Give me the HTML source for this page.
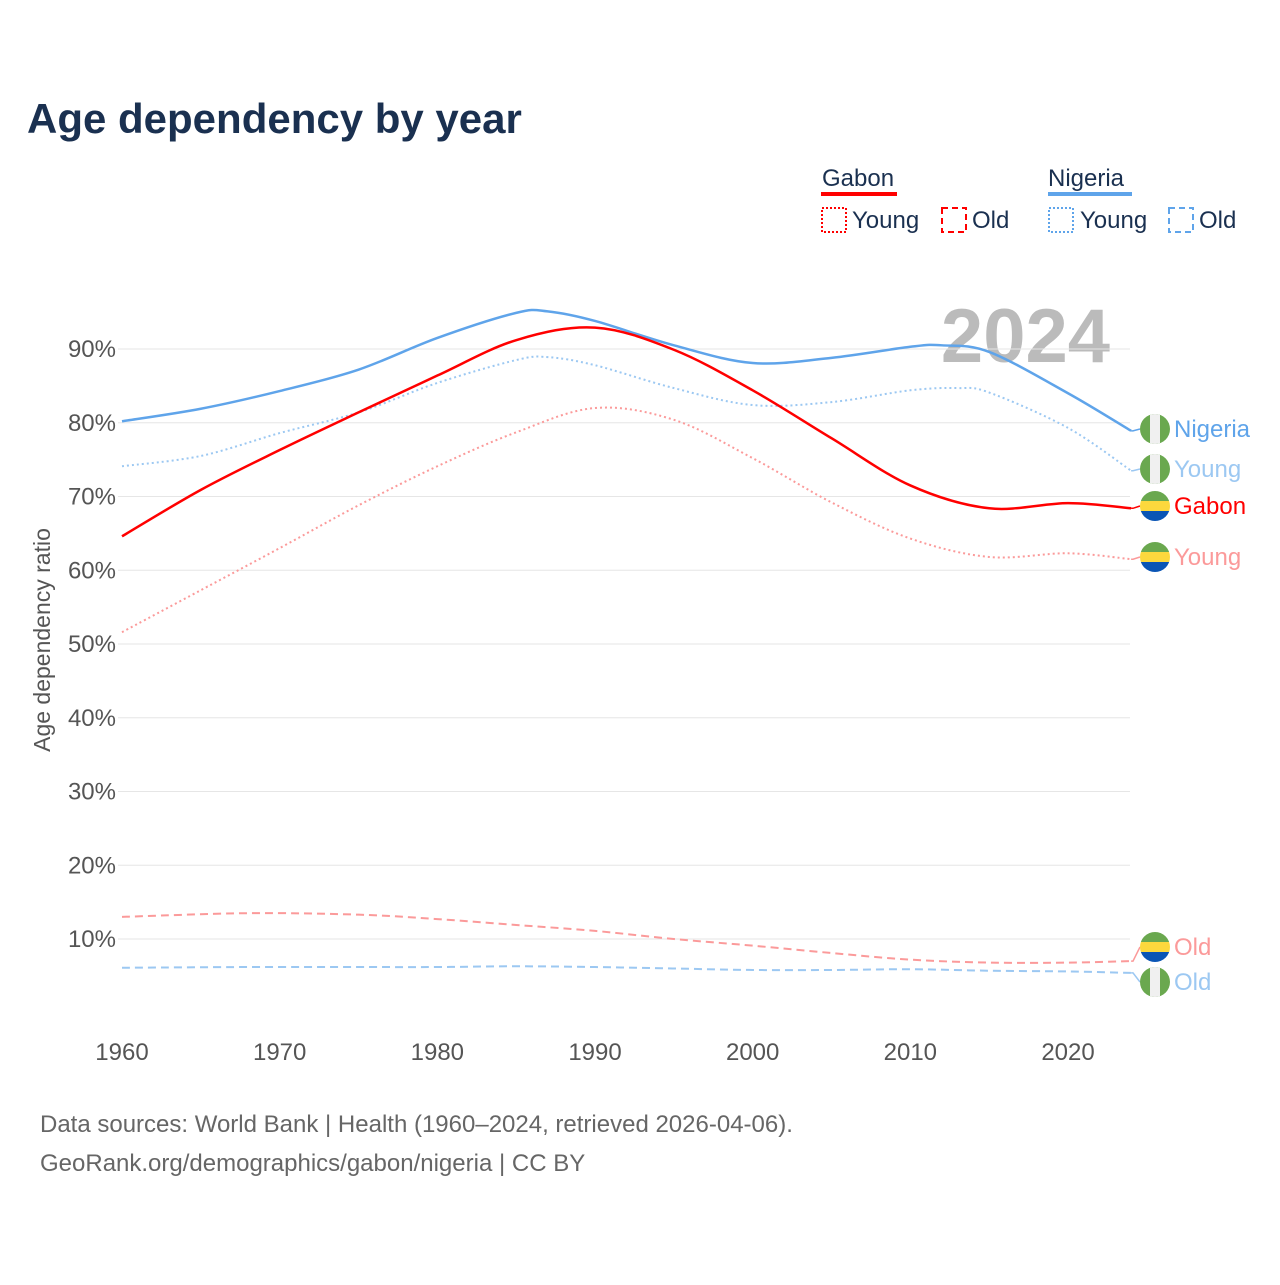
<!DOCTYPE html>
<html><head><meta charset="utf-8"><style>
body{margin:0;background:#fff;font-family:"Liberation Sans",sans-serif}
svg text{font-family:"Liberation Sans",sans-serif}
</style></head><body>
<svg id="c" width="1280" height="1280">
<text x="27" y="133" font-size="42" font-weight="bold" fill="#1a3050">Age dependency by year</text>
<g font-size="24" fill="#1a3050">
<text x="822" y="186">Gabon</text>
<rect x="821" y="192" width="76" height="4" fill="#f00"/>
<rect x="822" y="208" width="24" height="24" fill="none" stroke="#f00" stroke-width="2" stroke-dasharray="2,2"/>
<text x="852" y="228">Young</text>
<rect x="942" y="208" width="24" height="24" fill="none" stroke="#f00" stroke-width="2" stroke-dasharray="6,4"/>
<text x="972" y="228">Old</text>
<text x="1048" y="186">Nigeria</text>
<rect x="1048" y="192" width="84" height="4" fill="#5fa4ea"/>
<rect x="1049" y="208" width="24" height="24" fill="none" stroke="#5fa4ea" stroke-width="2" stroke-dasharray="2,2"/>
<text x="1080" y="228">Young</text>
<rect x="1169" y="208" width="24" height="24" fill="none" stroke="#5fa4ea" stroke-width="2" stroke-dasharray="6,4"/>
<text x="1199" y="228">Old</text>
</g>
<text x="1110" y="362" font-size="76" font-weight="bold" fill="#bbb" text-anchor="end">2024</text>
<text transform="translate(50,640) rotate(-90)" font-size="23" fill="#555" text-anchor="middle">Age dependency ratio</text>
<g id="grid"></g><g id="lines"></g><g id="labels"></g>
<text x="40" y="1132" font-size="24" fill="#666">Data sources: World Bank | Health (1960–2024, retrieved 2026-04-06).</text>
<text x="40" y="1171" font-size="24" fill="#666">GeoRank.org/demographics/gabon/nigeria | CC BY</text>
</svg>
<script>
const xTicks=[1960,1970,1980,1990,2000,2010,2020];
const yTicks=[10,20,30,40,50,60,70,80,90];
const ngYears=[1960,1965,1970,1975,1980,1985,1987,1990,1995,2000,2005,2010,2012,2015,2020,2024];
const ngTotal=[80.2,81.9,84.3,87.2,91.5,94.9,95.1,93.8,90.5,88.1,88.8,90.3,90.5,89.6,84.0,78.9];
const ngYoungYears=[1960,1965,1970,1975,1980,1985,1987,1990,1995,2000,2005,2010,2013,2015,2020,2024];
const ngYoung=[74.1,75.5,78.6,81.4,85.4,88.5,88.9,87.8,84.7,82.4,82.8,84.4,84.7,84.1,79.3,73.5];
const gaYears=[1960,1965,1970,1975,1980,1985,1990,1995,2000,2005,2010,2015,2020,2024];
const gaTotal=[64.6,70.9,76.3,81.4,86.4,91.2,92.9,89.9,84.4,77.9,71.5,68.4,69.1,68.4];
const gaYoung=[51.6,57.3,63.0,68.8,74.1,78.7,82.0,80.4,75.2,69.2,64.3,61.8,62.3,61.5];
const oldYears=[1960,1968,1975,1980,1985,1990,1995,2000,2005,2010,2015,2020,2024];
const gaOld=[13.0,13.5,13.3,12.7,11.9,11.1,10.0,9.1,8.1,7.2,6.8,6.8,7.0];
const ngOld=[6.1,6.2,6.2,6.2,6.3,6.2,6.0,5.8,5.8,5.9,5.7,5.6,5.4];
const X=y=>122+(y-1960)*15.767;
const Y=v=>1012.75-v*7.375;
const NS="http://www.w3.org/2000/svg";
function mk(t,a,p){const e=document.createElementNS(NS,t);for(const k in a)e.setAttribute(k,a[k]);p.appendChild(e);return e;}
const grid=document.getElementById('grid');
yTicks.forEach(v=>{
 const l=mk('line',{x1:118,x2:1130,y1:Y(v),y2:Y(v),stroke:'#e6e6e6','stroke-width':1},grid);
 
 
 const t=mk('text',{x:116,y:Y(v)+8,'font-size':24,fill:'#555','text-anchor':'end'},grid);
 t.textContent=v+'%';
 
 
});
xTicks.forEach(yr=>{
 const t=mk('text',{x:X(yr),y:1060,'font-size':24,fill:'#555','text-anchor':'middle'},grid);
 t.textContent=yr;
 
 
});
function path(xs,vs){
 const p=xs.map((x,i)=>[X(x),Y(vs[i])]);
 let d='M'+p[0][0]+','+p[0][1];
 for(let i=0;i<p.length-1;i++){
  const p0=p[Math.max(i-1,0)],p1=p[i],p2=p[i+1],p3=p[Math.min(i+2,p.length-1)];
  const c1=[p1[0]+(p2[0]-p0[0])/6,p1[1]+(p2[1]-p0[1])/6];
  const c2=[p2[0]-(p3[0]-p1[0])/6,p2[1]-(p3[1]-p1[1])/6];
  d+=' C'+c1+' '+c2+' '+p2;
 }
 return d;
}
const lines=document.getElementById('lines');
const series=[
 ['nigeria-old-line',oldYears,ngOld,'#9cc8f2','8,5',2],
 ['gabon-old-line',oldYears,gaOld,'#fb9a9a','8,5',2],
 ['gabon-young-line',gaYears,gaYoung,'#fb9a9a','2,3',2],
 ['nigeria-young-line',ngYoungYears,ngYoung,'#9cc8f2','2,3',2],
 ['nigeria-total-line',ngYears,ngTotal,'#5fa4ea','',2.5],
 ['gabon-total-line',gaYears,gaTotal,'#f00','',2.5]];
series.forEach(s=>{
 const e=mk('path',{d:path(s[1],s[2]),fill:'none',stroke:s[3],'stroke-width':s[5],'stroke-dasharray':s[4]},lines);
 
 
});
const labels=document.getElementById('labels');
const endLabels=[
 ['nigeria',ngTotal[ngTotal.length-1],429,'Nigeria','#5fa4ea','ng'],
 ['nigeria-young',ngYoung[ngYoung.length-1],469,'Young','#9cc8f2','ng'],
 ['gabon',gaTotal[gaTotal.length-1],506,'Gabon','#f00','ga'],
 ['gabon-young',gaYoung[gaYoung.length-1],557,'Young','#fb9a9a','ga'],
 ['gabon-old',gaOld[gaOld.length-1],947,'Old','#fb9a9a','ga'],
 ['nigeria-old',ngOld[ngOld.length-1],982,'Old','#9cc8f2','ng']];
endLabels.forEach(L=>{
 const x0=X(2024),y0=Y(L[1]);
 mk('path',{d:`M${x0},${y0} L1133,${y0} L1140,${L[2]}`,fill:'none',stroke:L[4],'stroke-width':1.5},labels);
 const g=mk('g',{},labels);
 
 
 const cx=1155,cy=L[2],r=15;
 const cid='cl'+L[0];
 const cp=mk('clipPath',{id:cid},g);mk('circle',{cx,cy,r},cp);
 if(L[5]==='ng'){
  mk('rect',{x:cx-r,y:cy-r,width:30,height:30,fill:'#6aa84f','clip-path':`url(#${cid})`},g);
  mk('rect',{x:cx-5,y:cy-r,width:10,height:30,fill:'#f0f0f0','clip-path':`url(#${cid})`},g);
 }else{
  mk('rect',{x:cx-r,y:cy-r,width:30,height:10,fill:'#6aa84f','clip-path':`url(#${cid})`},g);
  mk('rect',{x:cx-r,y:cy-5,width:30,height:10,fill:'#fcd83d','clip-path':`url(#${cid})`},g);
  mk('rect',{x:cx-r,y:cy+5,width:30,height:10,fill:'#0a55b5','clip-path':`url(#${cid})`},g);
 }
 const t=mk('text',{x:1174,y:L[2]+8,'font-size':24,fill:L[4]},labels);
 t.textContent=L[3];
 
 
});
</script>
</body></html>
